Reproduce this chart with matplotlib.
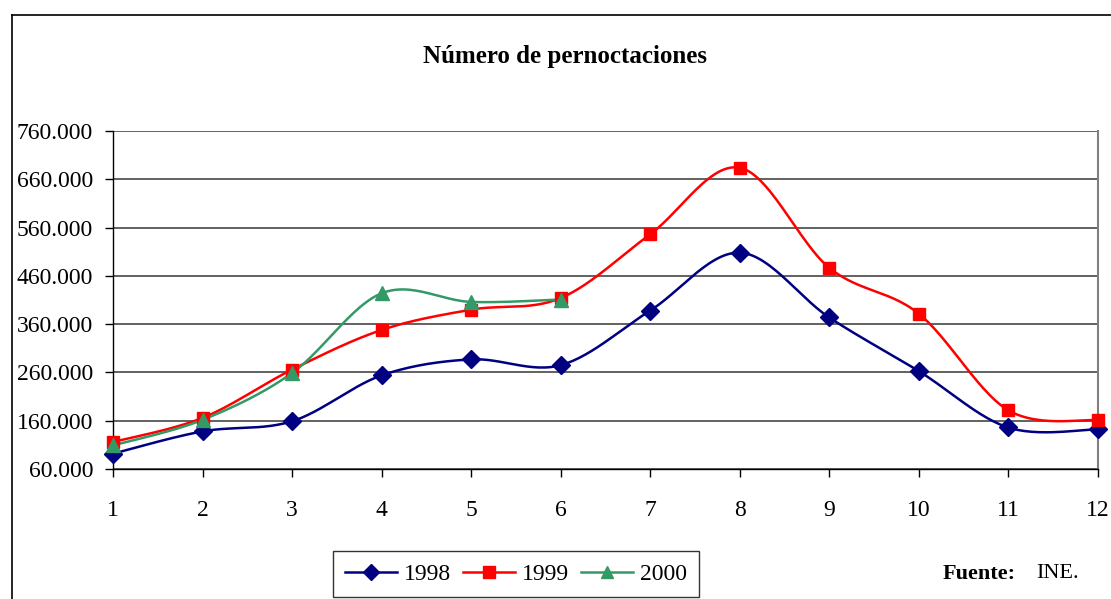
import numpy as np
import matplotlib
matplotlib.use("Agg")
import matplotlib.pyplot as plt
from matplotlib.lines import Line2D

months = [1, 2, 3, 4, 5, 6, 7, 8, 9, 10, 11, 12]
v1998 = [92000, 138000, 159000, 254000, 287000, 275000, 388000, 508000, 374000, 263000, 146000, 142000]
v1999 = [116000, 166000, 266000, 348000, 390000, 414000, 546000, 684000, 477000, 382000, 182000, 161000]
months2000 = [1, 2, 3, 4, 5, 6]
v2000 = [109000, 162000, 259000, 424000, 406000, 411000]
yticks = [60000, 160000, 260000, 360000, 460000, 560000, 660000, 760000]
ytick_labels = ["60.000", "160.000", "260.000", "360.000", "460.000", "560.000", "660.000", "760.000"]
title = "Número de pernoctaciones"
series_names = ["1998", "1999", "2000"]

plt.rcParams['font.family'] = ['Liberation Serif', 'DejaVu Serif']

W, H = 1111, 599
fig = plt.figure(figsize=(W / 100, H / 100), dpi=100)

def smooth(x, y, n=30):
    x = np.asarray(x, float); y = np.asarray(y, float)
    P = np.column_stack([x, y])
    out = [P[0]]
    m = len(P)
    for i in range(m - 1):
        p0 = P[i - 1] if i > 0 else P[i]
        p1 = P[i]; p2 = P[i + 1]
        p3 = P[i + 2] if i + 2 < m else P[i + 1]
        c1 = p1 + (p2 - p0) / 6.0
        c2 = p2 - (p3 - p1) / 6.0
        t = np.linspace(0, 1, n)[1:, None]
        b = (1 - t) ** 3 * p1 + 3 * (1 - t) ** 2 * t * c1 + 3 * (1 - t) * t ** 2 * c2 + t ** 3 * p2
        out.extend(b)
    out = np.array(out)
    return out[:, 0], out[:, 1]

# axes placement in pixels
left, right, top, bottom = 113.3, 1097.5, 131, 469
ax = fig.add_axes([left / W, 1 - bottom / H, (right - left) / W, (bottom - top) / H])
ax.set_xlim(1, 12)
ax.set_ylim(60000, 760000)

for yv in yticks:
    ax.axhline(yv, color='#555555', lw=1.3, zorder=1)

ax.spines['top'].set_visible(False)
ax.spines['right'].set_color('#808080')
ax.spines['right'].set_linewidth(1.5)
ax.spines['left'].set_color('black')
ax.spines['bottom'].set_color('black')
ax.spines['left'].set_linewidth(1.0)
ax.spines['bottom'].set_linewidth(1.0)

ax.set_yticks(yticks)
ax.set_yticklabels(ytick_labels)
ax.set_xticks(months)
ax.set_xticklabels([str(m) for m in months])
ax.tick_params(axis='y', direction='out', length=5.5, width=1, labelsize=17, pad=9, colors='black')
ax.tick_params(axis='x', direction='out', length=5.5, width=1, labelsize=17, pad=17, colors='black')

styles = [
    (months, v1998, '#000080', 'D', 9),
    (months, v1999, '#FF0000', 's', 9),
    (months2000, v2000, '#339966', '^', 10),
]
handles = []
for (xs, ys, c, mk, ms), name in zip(styles, series_names):
    sx, sy = smooth(xs, ys)
    ax.plot(sx, sy, color=c, lw=1.8, zorder=3, clip_on=False)
    ax.plot(xs, ys, linestyle='none', marker=mk, markersize=ms, color=c, zorder=4, clip_on=False)
    handles.append(Line2D([0], [0], color=c, lw=1.8, marker=mk, markersize=ms - 1, label=name))

fig.text(565 / W, 1 - 57 / H, title, ha='center', va='center', fontsize=18, fontweight='bold')

leg = fig.legend(handles=handles, loc='center', bbox_to_anchor=(516 / W, 1 - 574 / H),
                 ncol=3, frameon=True, fontsize=17, handlelength=2.2, handletextpad=0.3,
                 columnspacing=0.5, borderpad=0.5, fancybox=False, edgecolor='black')
leg.get_frame().set_linewidth(1.0)

fig.text(943 / W, 1 - 574 / H, "Fuente:", ha='left', va='center', fontsize=16, fontweight='bold')
fig.text(1036 / W, 1 - 574 / H, "INE.", ha='left', va='center', fontsize=16)

# outer border (top and left edges visible)
fig.add_artist(Line2D([12 / W, 12 / W], [1 - 15 / H, 0], color='black', lw=1.2, transform=fig.transFigure))
fig.add_artist(Line2D([12 / W, 1], [1 - 15 / H, 1 - 15 / H], color='black', lw=1.2, transform=fig.transFigure))

fig.savefig("out.png", dpi=100)
